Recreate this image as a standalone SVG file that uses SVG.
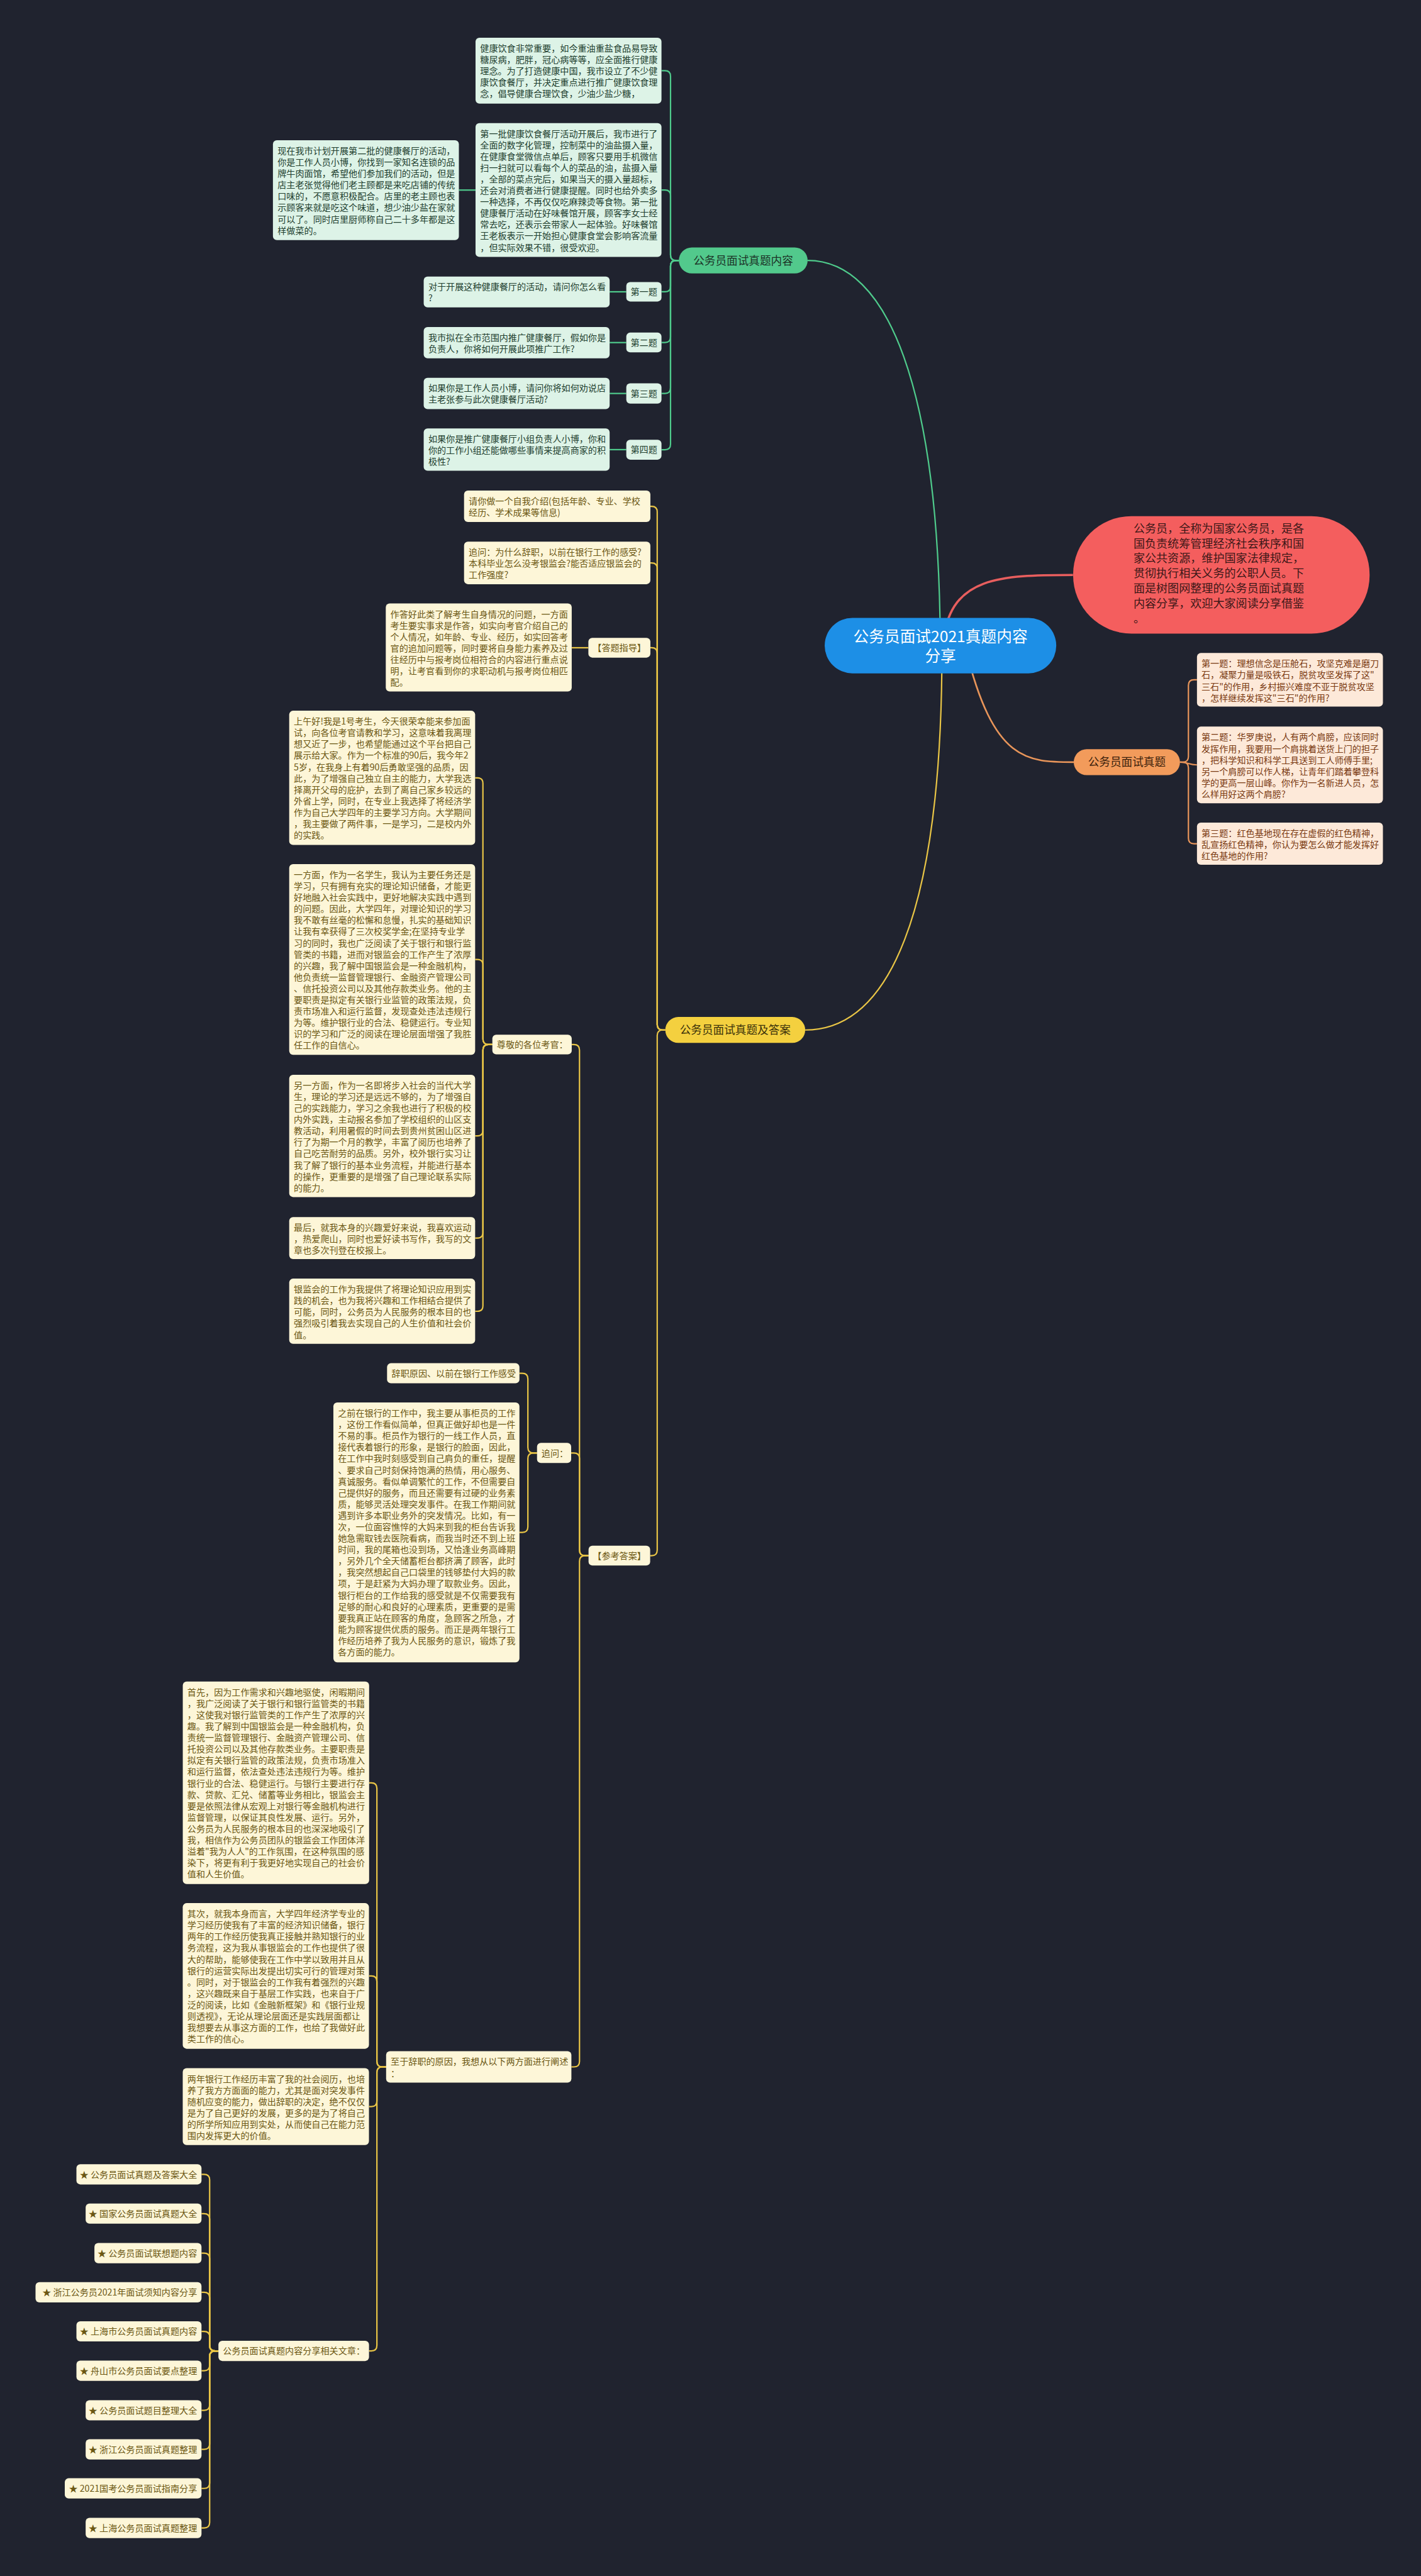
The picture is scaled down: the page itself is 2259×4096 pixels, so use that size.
<svg xmlns="http://www.w3.org/2000/svg" width="2259" height="4096" viewBox="0 0 2259 4096">
<style>
text{font-family:"Noto Sans CJK SC","Noto Sans",sans-serif;font-size:16px}
.cg{fill:none;stroke:#4fcb8c;stroke-width:2.5}
.cy{fill:none;stroke:#e9c546;stroke-width:2.5}
.co{fill:none;stroke:#e8955a;stroke-width:2.5}
.cr{fill:none;stroke:#e85e5e;stroke-width:4}
.lg{fill:#ddf3e7}
.ly{fill:#fdf6d8}
.lo{fill:#fde9d9}
.tg{fill:#22402f}
.ty{fill:#6b5713}
.to{fill:#7a3a12}
</style>
<rect width="2259" height="4096" fill="#20232f"/>
<g transform="scale(0.88242)">
<g id="connectors">
<path class="cg" d="M1694 1163 C1692 700 1600 469.4 1455 469.4"/>
<path class="cr" d="M1700 1150 C1715 1040 1800 1036 1933 1036"/>
<path class="cy" d="M1697 1170 C1697 1650 1600 1856 1450.6 1856"/>
<path class="co" style="stroke-width:3" d="M1740 1170 C1790 1373 1850 1373.3 1934.4 1373.3"/>
<path class="cg" d="M1223 469.4 H1218 Q1208 469.4 1208 459.4 V137.3 Q1208 127.3 1198 127.3 H1191.7"/>
<path class="cg" d="M1223 469.4 H1218 Q1208 469.4 1208 459.4 V352.3 Q1208 342.3 1198 342.3 H1191.7"/>
<path class="cg" d="M1223 469.4 H1218 Q1208 469.4 1208 479.4 V515.8 Q1208 525.8 1198 525.8 H1191.7"/>
<path class="cg" d="M1223 469.4 H1218 Q1208 469.4 1208 479.4 V607.2 Q1208 617.2 1198 617.2 H1191.7"/>
<path class="cg" d="M1223 469.4 H1218 Q1208 469.4 1208 479.4 V699 Q1208 709 1198 709 H1191.7"/>
<path class="cg" d="M1223 469.4 H1218 Q1208 469.4 1208 479.4 V800.3 Q1208 810.3 1198 810.3 H1191.7"/>
<path class="cg" d="M856.7 342.5 H826.7"/>
<path class="cg" d="M1128.3 525.8 H1098.3"/>
<path class="cg" d="M1128.3 617.3 H1098.3"/>
<path class="cg" d="M1128.3 709 H1098.3"/>
<path class="cg" d="M1128.3 810.2 H1098.3"/>
<path class="co" d="M2125.8 1373.3 H2131 Q2141 1373.3 2141 1363.3 V1235 Q2141 1225 2151 1225 H2156.4"/>
<path class="co" d="M2125.8 1373.3 C2141 1373.3 2141 1378.3 2156.4 1378.3"/>
<path class="co" d="M2125.8 1373.3 H2131 Q2141 1373.3 2141 1383.3 V1510.3 Q2141 1520.3 2151 1520.3 H2156.4"/>
<path class="cy" d="M1198.6 1856 H1194 Q1184 1856 1184 1846 V922.3 Q1184 912.3 1174 912.3 H1171.7"/>
<path class="cy" d="M1198.6 1856 H1194 Q1184 1856 1184 1846 V1024.3 Q1184 1014.3 1174 1014.3 H1171.7"/>
<path class="cy" d="M1198.6 1856 H1194 Q1184 1856 1184 1846 V1177.2 Q1184 1167.2 1174 1167.2 H1171.7"/>
<path class="cy" d="M1198.6 1856 H1194 Q1184 1856 1184 1866 V2793.2 Q1184 2803.2 1174 2803.2 H1171.3"/>
<path class="cy" d="M1060 1167.2 H1030"/>
<path class="cy" d="M1060.3 2803.2 H1054 Q1044 2803.2 1044 2793.2 V1892.2 Q1044 1882.2 1034 1882.2 H1030"/>
<path class="cy" d="M1060.3 2803.2 H1054 Q1044 2803.2 1044 2793.2 V2628.2 Q1044 2618.2 1034 2618.2 H1029"/>
<path class="cy" d="M1060.3 2803.2 H1054 Q1044 2803.2 1044 2813.2 V3714.4 Q1044 3724.4 1034 3724.4 H1029.4"/>
<path class="cy" d="M887 1882.2 H880 Q870 1882.2 870 1872.2 V1411.6 Q870 1401.6 860 1401.6 H856"/>
<path class="cy" d="M887 1882.2 H880 Q870 1882.2 870 1872.2 V1738.8 Q870 1728.8 860 1728.8 H856"/>
<path class="cy" d="M887 1882.2 H880 Q870 1882.2 870 1892.2 V2036.8 Q870 2046.8 860 2046.8 H856"/>
<path class="cy" d="M887 1882.2 H880 Q870 1882.2 870 1892.2 V2220.9 Q870 2230.9 860 2230.9 H856"/>
<path class="cy" d="M887 1882.2 H880 Q870 1882.2 870 1892.2 V2352.8 Q870 2362.8 860 2362.8 H856"/>
<path class="cy" d="M967.5 2618.2 H961 Q951 2618.2 951 2608.2 V2484.6 Q951 2474.6 941 2474.6 H935.8"/>
<path class="cy" d="M967.5 2618.2 H961 Q951 2618.2 951 2628.2 V2751.3 Q951 2761.3 941 2761.3 H935.8"/>
<path class="cy" d="M695.6 3724.4 H689 Q679 3724.4 679 3714.4 V3222.5 Q679 3212.5 669 3212.5 H665"/>
<path class="cy" d="M695.6 3724.4 H689 Q679 3724.4 679 3714.4 V3570.5 Q679 3560.5 669 3560.5 H665"/>
<path class="cy" d="M695.6 3724.4 H689 Q679 3724.4 679 3734.4 V3786 Q679 3796 669 3796 H665"/>
<path class="cy" d="M695.6 3724.4 H689 Q679 3724.4 679 3734.4 V4226.2 Q679 4236.2 669 4236.2 H664.8"/>
<path class="cy" d="M393.5 4236.2 H387.7 Q377.7 4236.2 377.7 4226.2 V3928 Q377.7 3918 367.7 3918 H363"/>
<path class="cy" d="M393.5 4236.2 H387.7 Q377.7 4236.2 377.7 4226.2 V3998.8 Q377.7 3988.8 367.7 3988.8 H363"/>
<path class="cy" d="M393.5 4236.2 H387.7 Q377.7 4236.2 377.7 4226.2 V4070 Q377.7 4060 367.7 4060 H363"/>
<path class="cy" d="M393.5 4236.2 H387.7 Q377.7 4236.2 377.7 4226.2 V4140.5 Q377.7 4130.5 367.7 4130.5 H363"/>
<path class="cy" d="M393.5 4236.2 H387.7 Q377.7 4236.2 377.7 4226.2 V4211 Q377.7 4201 367.7 4201 H363"/>
<path class="cy" d="M393.5 4236.2 H387.7 Q377.7 4236.2 377.7 4246.2 V4262 Q377.7 4272 367.7 4272 H363"/>
<path class="cy" d="M393.5 4236.2 H387.7 Q377.7 4236.2 377.7 4246.2 V4333.2 Q377.7 4343.2 367.7 4343.2 H363"/>
<path class="cy" d="M393.5 4236.2 H387.7 Q377.7 4236.2 377.7 4246.2 V4403.5 Q377.7 4413.5 367.7 4413.5 H363"/>
<path class="cy" d="M393.5 4236.2 H387.7 Q377.7 4236.2 377.7 4246.2 V4474 Q377.7 4484 367.7 4484 H363"/>
<path class="cy" d="M393.5 4236.2 H387.7 Q377.7 4236.2 377.7 4246.2 V4545.2 Q377.7 4555.2 367.7 4555.2 H363"/>
</g>

<g id="root">
<rect x="1485.7" y="1113.3" width="417.2" height="100" rx="50" fill="#1d8fe6"/>
<text x="1694.3" y="1157.3" text-anchor="middle" style="font-size:28px" fill="#ffffff">公务员面试2021真题内容</text>
<text x="1694.3" y="1191.7" text-anchor="middle" style="font-size:28px" fill="#ffffff">分享</text>
</g>

<g id="intro">
<rect x="1933.3" y="930" width="534.1" height="211.7" rx="105" fill="#f45e5e"/>
<text style="font-size:20.5px" fill="#3d1818"><tspan x="2042" y="959.5">公务员，全称为国家公务员，是各</tspan><tspan x="2042" y="986.5">国负责统筹管理经济社会秩序和国</tspan><tspan x="2042" y="1013.5">家公共资源，维护国家法律规定，</tspan><tspan x="2042" y="1040.5">贯彻执行相关义务的公职人员。下</tspan><tspan x="2042" y="1067.5">面是树图网整理的公务员面试真题</tspan><tspan x="2042" y="1094.5">内容分享，欢迎大家阅读分享借鉴</tspan><tspan x="2042" y="1121.5">。</tspan></text>
</g>

<g id="green-main">
<rect x="1223" y="446" width="232" height="46.7" rx="23.3" fill="#52c98c"/>
<text x="1339" y="476.9" text-anchor="middle" style="font-size:20px" fill="#1c3327">公务员面试真题内容</text>
</g>
<g id="g-box1">
<rect class="lg" x="856.7" y="68" width="335" height="118.7" rx="7"/>
<text class="tg"><tspan x="865" y="93">健康饮食非常重要，如今重油重盐食品易导致</tspan><tspan x="865" y="113.5">糖尿病，肥胖，冠心病等等，应全面推行健康</tspan><tspan x="865" y="134">理念。为了打造健康中国，我市设立了不少健</tspan><tspan x="865" y="154.5">康饮食餐厅，并决定重点进行推广健康饮食理</tspan><tspan x="865" y="175">念，倡导健康合理饮食，少油少盐少糖，</tspan></text>
</g>
<g id="g-box2">
<rect class="lg" x="856.7" y="221.7" width="335" height="241.3" rx="7"/>
<text class="tg"><tspan x="865" y="246.7">第一批健康饮食餐厅活动开展后，我市进行了</tspan><tspan x="865" y="267.2">全面的数字化管理，控制菜中的油盐摄入量，</tspan><tspan x="865" y="287.7">在健康食堂微信点单后，顾客只要用手机微信</tspan><tspan x="865" y="308.2">扫一扫就可以看每个人的菜品的油，盐摄入量</tspan><tspan x="865" y="328.7">，全部的菜点完后，如果当天的摄入量超标，</tspan><tspan x="865" y="349.2">还会对消费者进行健康提醒。同时也给外卖多</tspan><tspan x="865" y="369.7">一种选择，不再仅仅吃麻辣烫等食物。第一批</tspan><tspan x="865" y="390.2">健康餐厅活动在好味餐馆开展，顾客李女士经</tspan><tspan x="865" y="410.7">常去吃，还表示会带家人一起体验。好味餐馆</tspan><tspan x="865" y="431.2">王老板表示一开始担心健康食堂会影响客流量</tspan><tspan x="865" y="451.7">，但实际效果不错，很受欢迎。</tspan></text>
</g>
<g id="g-box3">
<rect class="lg" x="491.7" y="252.7" width="335" height="180" rx="7"/>
<text class="tg"><tspan x="500" y="277.7">现在我市计划开展第二批的健康餐厅的活动，</tspan><tspan x="500" y="298.2">你是工作人员小博，你找到一家知名连锁的品</tspan><tspan x="500" y="318.7">牌牛肉面馆，希望他们参加我们的活动，但是</tspan><tspan x="500" y="339.2">店主老张觉得他们老主顾都是来吃店铺的传统</tspan><tspan x="500" y="359.7">口味的，不愿意积极配合。店里的老主顾也表</tspan><tspan x="500" y="380.2">示顾客来就是吃这个味道，想少油少盐在家就</tspan><tspan x="500" y="400.7">可以了。同时店里厨师称自己二十多年都是这</tspan><tspan x="500" y="421.2">样做菜的。</tspan></text>
</g>
<g id="g-q1">
<rect class="lg" x="763.3" y="498.3" width="335" height="55.7" rx="7"/>
<text class="tg"><tspan x="771.6" y="522.8">对于开展这种健康餐厅的活动，请问你怎么看</tspan><tspan x="771.6" y="543.3">?</tspan></text>
</g>
<g id="g-q2">
<rect class="lg" x="763.3" y="589.3" width="335" height="56.4" rx="7"/>
<text class="tg"><tspan x="771.6" y="613.8">我市拟在全市范围内推广健康餐厅，假如你是</tspan><tspan x="771.6" y="634.3">负责人，你将如何开展此项推广工作?</tspan></text>
</g>
<g id="g-q3">
<rect class="lg" x="763.3" y="680.7" width="335" height="56.6" rx="7"/>
<text class="tg"><tspan x="771.6" y="705.2">如果你是工作人员小博，请问你将如何劝说店</tspan><tspan x="771.6" y="725.7">主老张参与此次健康餐厅活动?</tspan></text>
</g>
<g id="g-q4">
<rect class="lg" x="763.3" y="772" width="335" height="76.3" rx="7"/>
<text class="tg"><tspan x="771.6" y="796.5">如果你是推广健康餐厅小组负责人小博，你和</tspan><tspan x="771.6" y="817">你的工作小组还能做哪些事情来提高商家的积</tspan><tspan x="771.6" y="837.5">极性?</tspan></text>
</g>
<g id="g-l1"><rect class="lg" x="1128.3" y="508.3" width="63.4" height="35" rx="7"/><text class="tg" x="1160" y="531.8" text-anchor="middle">第一题</text></g>
<g id="g-l2"><rect class="lg" x="1128.3" y="599.3" width="63.4" height="35.7" rx="7"/><text class="tg" x="1160" y="623.2" text-anchor="middle">第二题</text></g>
<g id="g-l3"><rect class="lg" x="1128.3" y="690.7" width="63.4" height="36.6" rx="7"/><text class="tg" x="1160" y="715" text-anchor="middle">第三题</text></g>
<g id="g-l4"><rect class="lg" x="1128.3" y="792.3" width="63.4" height="36" rx="7"/><text class="tg" x="1160" y="816.3" text-anchor="middle">第四题</text></g>

<g id="orange-main">
<rect x="1934.4" y="1350" width="191.4" height="46.7" rx="23.3" fill="#f29b5b"/>
<text x="2030.1" y="1380.8" text-anchor="middle" style="font-size:20px" fill="#3b1f0c">公务员面试真题</text>
</g>
<g id="o-a">
<rect class="lo" x="2156.4" y="1176.7" width="335" height="96.6" rx="7"/>
<text class="to"><tspan x="2164.5" y="1201.7">第一题：理想信念是压舱石，攻坚克难是磨刀</tspan><tspan x="2164.5" y="1222.2">石，凝聚力量是吸铁石，脱贫攻坚发挥了这"</tspan><tspan x="2164.5" y="1242.7">三石"的作用，乡村振兴难度不亚于脱贫攻坚</tspan><tspan x="2164.5" y="1263.2">，怎样继续发挥这"三石"的作用?</tspan></text>
</g>
<g id="o-b">
<rect class="lo" x="2156.4" y="1309.3" width="335" height="138" rx="7"/>
<text class="to"><tspan x="2164.5" y="1334.3">第二题：华罗庚说，人有两个肩膀，应该同时</tspan><tspan x="2164.5" y="1354.8">发挥作用，我要用一个肩挑着送货上门的担子</tspan><tspan x="2164.5" y="1375.3">，把科学知识和科学工具送到工人师傅手里;</tspan><tspan x="2164.5" y="1395.8">另一个肩膀可以作人梯，让青年们踏着攀登科</tspan><tspan x="2164.5" y="1416.3">学的更高一层山峰。你作为一名新进人员，怎</tspan><tspan x="2164.5" y="1436.8">么样用好这两个肩膀?</tspan></text>
</g>
<g id="o-c">
<rect class="lo" x="2156.4" y="1482.3" width="335" height="76" rx="7"/>
<text class="to"><tspan x="2164.5" y="1507.3">第三题：红色基地现在存在虚假的红色精神，</tspan><tspan x="2164.5" y="1527.8">乱宣扬红色精神，你认为要怎么做才能发挥好</tspan><tspan x="2164.5" y="1548.3">红色基地的作用?</tspan></text>
</g>

<g id="yellow-main">
<rect x="1198.6" y="1832.6" width="252" height="46.7" rx="23.3" fill="#f4d03f"/>
<text x="1324.6" y="1863.5" text-anchor="middle" style="font-size:20px" fill="#3a300a">公务员面试真题及答案</text>
</g>
<g id="y-1">
<rect class="ly" x="836" y="884" width="335.7" height="56.7" rx="7"/>
<text class="ty"><tspan x="844.3" y="909">请你做一个自我介绍(包括年龄、专业、学校</tspan><tspan x="844.3" y="929.5">经历、学术成果等信息)</tspan></text>
</g>
<g id="y-2">
<rect class="ly" x="836" y="976" width="335.7" height="76.7" rx="7"/>
<text class="ty"><tspan x="844.3" y="1001">追问：为什么辞职，以前在银行工作的感受?</tspan><tspan x="844.3" y="1021.5">本科毕业怎么没考银监会?能否适应银监会的</tspan><tspan x="844.3" y="1042">工作强度?</tspan></text>
</g>
<g id="y-3">
<rect class="ly" x="695" y="1087.3" width="335" height="158.7" rx="7"/>
<text class="ty"><tspan x="703.3" y="1112.3">作答好此类了解考生自身情况的问题，一方面</tspan><tspan x="703.3" y="1132.8">考生要实事求是作答，如实向考官介绍自己的</tspan><tspan x="703.3" y="1153.3">个人情况，如年龄、专业、经历，如实回答考</tspan><tspan x="703.3" y="1173.8">官的追加问题等，同时要将自身能力素养及过</tspan><tspan x="703.3" y="1194.3">往经历中与报考岗位相符合的内容进行重点说</tspan><tspan x="703.3" y="1214.8">明，让考官看到你的求职动机与报考岗位相匹</tspan><tspan x="703.3" y="1235.3">配。</tspan></text>
</g>
<g id="y-guide"><rect class="ly" x="1060" y="1149.3" width="111.7" height="35.7" rx="7"/><text class="ty" x="1115.8" y="1173.2" text-anchor="middle">【答题指导】</text></g>
<g id="y-answer"><rect class="ly" x="1060.3" y="2785.3" width="111" height="35.7" rx="7"/><text class="ty" x="1115.8" y="2809.2" text-anchor="middle">【参考答案】</text></g>
<g id="y-dear"><rect class="ly" x="887" y="1864.4" width="143" height="35.6" rx="7"/><text class="ty" x="895" y="1888.2">尊敬的各位考官：</text></g>
<g id="y-b1">
<rect class="ly" x="521" y="1280.7" width="335" height="241.9" rx="7"/>
<text class="ty"><tspan x="529.3" y="1305.7">上午好!我是1号考生，今天很荣幸能来参加面</tspan><tspan x="529.3" y="1326.2">试，向各位考官请教和学习，这意味着我离理</tspan><tspan x="529.3" y="1346.7">想又近了一步，也希望能通过这个平台把自己</tspan><tspan x="529.3" y="1367.2">展示给大家。作为一个标准的90后，我今年2</tspan><tspan x="529.3" y="1387.7">5岁，在我身上有着90后勇敢坚强的品质，因</tspan><tspan x="529.3" y="1408.2">此，为了增强自己独立自主的能力，大学我选</tspan><tspan x="529.3" y="1428.7">择离开父母的庇护，去到了离自己家乡较远的</tspan><tspan x="529.3" y="1449.2">外省上学，同时，在专业上我选择了将经济学</tspan><tspan x="529.3" y="1469.7">作为自己大学四年的主要学习方向。大学期间</tspan><tspan x="529.3" y="1490.2">，我主要做了两件事，一是学习，二是校内外</tspan><tspan x="529.3" y="1510.7">的实践。</tspan></text>
</g>
<g id="y-b2">
<rect class="ly" x="521" y="1557" width="335" height="343.7" rx="7"/>
<text class="ty"><tspan x="529.3" y="1582">一方面，作为一名学生，我认为主要任务还是</tspan><tspan x="529.3" y="1602.5">学习，只有拥有充实的理论知识储备，才能更</tspan><tspan x="529.3" y="1623">好地融入社会实践中，更好地解决实践中遇到</tspan><tspan x="529.3" y="1643.5">的问题。因此，大学四年，对理论知识的学习</tspan><tspan x="529.3" y="1664">我不敢有丝毫的松懈和怠慢，扎实的基础知识</tspan><tspan x="529.3" y="1684.5">让我有幸获得了三次校奖学金;在坚持专业学</tspan><tspan x="529.3" y="1705">习的同时，我也广泛阅读了关于银行和银行监</tspan><tspan x="529.3" y="1725.5">管类的书籍，进而对银监会的工作产生了浓厚</tspan><tspan x="529.3" y="1746">的兴趣，我了解中国银监会是一种金融机构，</tspan><tspan x="529.3" y="1766.5">他负责统一监督管理银行、金融资产管理公司</tspan><tspan x="529.3" y="1787">、信托投资公司以及其他存款类业务。他的主</tspan><tspan x="529.3" y="1807.5">要职责是拟定有关银行业监管的政策法规，负</tspan><tspan x="529.3" y="1828">责市场准入和运行监督，发现查处违法违规行</tspan><tspan x="529.3" y="1848.5">为等。维护银行业的合法、稳健运行。专业知</tspan><tspan x="529.3" y="1869">识的学习和广泛的阅读在理论层面增强了我胜</tspan><tspan x="529.3" y="1889.5">任工作的自信心。</tspan></text>
</g>
<g id="y-b3">
<rect class="ly" x="521" y="1936.6" width="335" height="220.4" rx="7"/>
<text class="ty"><tspan x="529.3" y="1961.6">另一方面，作为一名即将步入社会的当代大学</tspan><tspan x="529.3" y="1982.1">生，理论的学习还是远远不够的，为了增强自</tspan><tspan x="529.3" y="2002.6">己的实践能力，学习之余我也进行了积极的校</tspan><tspan x="529.3" y="2023.1">内外实践，主动报名参加了学校组织的山区支</tspan><tspan x="529.3" y="2043.6">教活动，利用暑假的时间去到贵州贫困山区进</tspan><tspan x="529.3" y="2064.1">行了为期一个月的教学，丰富了阅历也培养了</tspan><tspan x="529.3" y="2084.6">自己吃苦耐劳的品质。另外，校外银行实习让</tspan><tspan x="529.3" y="2105.1">我了解了银行的基本业务流程，并能进行基本</tspan><tspan x="529.3" y="2125.6">的操作，更重要的是增强了自己理论联系实际</tspan><tspan x="529.3" y="2146.1">的能力。</tspan></text>
</g>
<g id="y-b4">
<rect class="ly" x="521" y="2193" width="335" height="75.8" rx="7"/>
<text class="ty"><tspan x="529.3" y="2218">最后，就我本身的兴趣爱好来说，我喜欢运动</tspan><tspan x="529.3" y="2238.5">，热爱爬山，同时也爱好读书写作，我写的文</tspan><tspan x="529.3" y="2259">章也多次刊登在校报上。</tspan></text>
</g>
<g id="y-b5">
<rect class="ly" x="521" y="2304" width="335" height="117.6" rx="7"/>
<text class="ty"><tspan x="529.3" y="2329">银监会的工作为我提供了将理论知识应用到实</tspan><tspan x="529.3" y="2349.5">践的机会，也为我将兴趣和工作相结合提供了</tspan><tspan x="529.3" y="2370">可能，同时，公务员为人民服务的根本目的也</tspan><tspan x="529.3" y="2390.5">强烈吸引着我去实现自己的人生价值和社会价</tspan><tspan x="529.3" y="2411">值。</tspan></text>
</g>
<g id="y-ask"><rect class="ly" x="967.5" y="2600" width="61.5" height="36.3" rx="7"/><text class="ty" x="975.5" y="2624.2">追问：</text></g>
<g id="y-reason"><rect class="ly" x="697.3" y="2456.4" width="238.5" height="36.3" rx="7"/><text class="ty" x="705.5" y="2480.6">辞职原因、以前在银行工作感受</text></g>
<g id="y-before">
<rect class="ly" x="600.6" y="2527.2" width="335.2" height="468.2" rx="7"/>
<text class="ty"><tspan x="608.8" y="2552.2">之前在银行的工作中，我主要从事柜员的工作</tspan><tspan x="608.8" y="2572.7">，这份工作看似简单，但真正做好却也是一件</tspan><tspan x="608.8" y="2593.2">不易的事。柜员作为银行的一线工作人员，直</tspan><tspan x="608.8" y="2613.7">接代表着银行的形象，是银行的脸面，因此，</tspan><tspan x="608.8" y="2634.2">在工作中我时刻感受到自己肩负的重任，提醒</tspan><tspan x="608.8" y="2654.7">、要求自己时刻保持饱满的热情，用心服务、</tspan><tspan x="608.8" y="2675.2">真诚服务。看似单调繁忙的工作，不但需要自</tspan><tspan x="608.8" y="2695.7">己提供好的服务，而且还需要有过硬的业务素</tspan><tspan x="608.8" y="2716.2">质，能够灵活处理突发事件。在我工作期间就</tspan><tspan x="608.8" y="2736.7">遇到许多本职业务外的突发情况。比如，有一</tspan><tspan x="608.8" y="2757.2">次，一位面容憔悴的大妈来到我的柜台告诉我</tspan><tspan x="608.8" y="2777.7">她急需取钱去医院看病，而我当时还不到上班</tspan><tspan x="608.8" y="2798.2">时间，我的尾箱也没到场，又恰逢业务高峰期</tspan><tspan x="608.8" y="2818.7">，另外几个全天储蓄柜台都挤满了顾客，此时</tspan><tspan x="608.8" y="2839.2">，我突然想起自己口袋里的钱够垫付大妈的款</tspan><tspan x="608.8" y="2859.7">项，于是赶紧为大妈办理了取款业务。因此，</tspan><tspan x="608.8" y="2880.2">银行柜台的工作给我的感受就是不仅需要我有</tspan><tspan x="608.8" y="2900.7">足够的耐心和良好的心理素质，更重要的是需</tspan><tspan x="608.8" y="2921.2">要我真正站在顾客的角度，急顾客之所急，才</tspan><tspan x="608.8" y="2941.7">能为顾客提供优质的服务。而正是两年银行工</tspan><tspan x="608.8" y="2962.2">作经历培养了我为人民服务的意识，锻炼了我</tspan><tspan x="608.8" y="2982.7">各方面的能力。</tspan></text>
</g>
<g id="y-why">
<rect class="ly" x="695.6" y="3696" width="333.8" height="56.7" rx="7"/>
<text class="ty"><tspan x="703.8" y="3721">至于辞职的原因，我想从以下两方面进行阐述</tspan><tspan x="703.8" y="3741.5">：</tspan></text>
</g>
<g id="y-first">
<rect class="ly" x="329.3" y="3030" width="335.7" height="365" rx="7"/>
<text class="ty"><tspan x="337.5" y="3055">首先，因为工作需求和兴趣地驱使，闲暇期间</tspan><tspan x="337.5" y="3075.5">，我广泛阅读了关于银行和银行监管类的书籍</tspan><tspan x="337.5" y="3096">，这使我对银行监管类的工作产生了浓厚的兴</tspan><tspan x="337.5" y="3116.5">趣。我了解到中国银监会是一种金融机构，负</tspan><tspan x="337.5" y="3137">责统一监督管理银行、金融资产管理公司、信</tspan><tspan x="337.5" y="3157.5">托投资公司以及其他存款类业务。主要职责是</tspan><tspan x="337.5" y="3178">拟定有关银行监管的政策法规，负责市场准入</tspan><tspan x="337.5" y="3198.5">和运行监督，依法查处违法违规行为等。维护</tspan><tspan x="337.5" y="3219">银行业的合法、稳健运行。与银行主要进行存</tspan><tspan x="337.5" y="3239.5">款、贷款、汇兑、储蓄等业务相比，银监会主</tspan><tspan x="337.5" y="3260">要是依照法律从宏观上对银行等金融机构进行</tspan><tspan x="337.5" y="3280.5">监督管理，以保证其良性发展、运行。另外，</tspan><tspan x="337.5" y="3301">公务员为人民服务的根本目的也深深地吸引了</tspan><tspan x="337.5" y="3321.5">我，相信作为公务员团队的银监会工作团体洋</tspan><tspan x="337.5" y="3342">溢着"我为人人"的工作氛围，在这种氛围的感</tspan><tspan x="337.5" y="3362.5">染下，将更有利于我更好地实现自己的社会价</tspan><tspan x="337.5" y="3383">值和人生价值。</tspan></text>
</g>
<g id="y-second">
<rect class="ly" x="329.2" y="3429.3" width="335.5" height="262.4" rx="7"/>
<text class="ty"><tspan x="337.5" y="3454.3">其次，就我本身而言，大学四年经济学专业的</tspan><tspan x="337.5" y="3474.8">学习经历使我有了丰富的经济知识储备，银行</tspan><tspan x="337.5" y="3495.3">两年的工作经历使我真正接触并熟知银行的业</tspan><tspan x="337.5" y="3515.8">务流程，这为我从事银监会的工作也提供了很</tspan><tspan x="337.5" y="3536.3">大的帮助，能够使我在工作中学以致用并且从</tspan><tspan x="337.5" y="3556.8">银行的运营实际出发提出切实可行的管理对策</tspan><tspan x="337.5" y="3577.3">。同时，对于银监会的工作我有着强烈的兴趣</tspan><tspan x="337.5" y="3597.8">，这兴趣既来自于基层工作实践，也来自于广</tspan><tspan x="337.5" y="3618.3">泛的阅读，比如《金融新框架》和《银行业规</tspan><tspan x="337.5" y="3638.8">则透视》，无论从理论层面还是实践层面都让</tspan><tspan x="337.5" y="3659.3">我想要去从事这方面的工作，也给了我做好此</tspan><tspan x="337.5" y="3679.8">类工作的信心。</tspan></text>
</g>
<g id="y-third">
<rect class="ly" x="329.2" y="3726.7" width="335.5" height="138.5" rx="7"/>
<text class="ty"><tspan x="337.5" y="3751.7">两年银行工作经历丰富了我的社会阅历，也培</tspan><tspan x="337.5" y="3772.2">养了我方方面面的能力，尤其是面对突发事件</tspan><tspan x="337.5" y="3792.7">随机应变的能力，做出辞职的决定，绝不仅仅</tspan><tspan x="337.5" y="3813.2">是为了自己更好的发展，更多的是为了将自己</tspan><tspan x="337.5" y="3833.7">的所学所知应用到实处，从而使自己在能力范</tspan><tspan x="337.5" y="3854.2">围内发挥更大的价值。</tspan></text>
</g>
<g id="y-related"><rect class="ly" x="393.5" y="4218" width="271.3" height="36.4" rx="7"/><text class="ty" x="401.5" y="4242.2">公务员面试真题内容分享相关文章：</text></g>
<g id="link1"><rect class="ly" x="137.7" y="3899.7" width="225.3" height="36.5" rx="7"/><text class="ty" x="355" y="3924" text-anchor="end">★ 公务员面试真题及答案大全</text></g>
<g id="link2"><rect class="ly" x="154.3" y="3970.5" width="208.7" height="36.5" rx="7"/><text class="ty" x="355" y="3994.8" text-anchor="end">★ 国家公务员面试真题大全</text></g>
<g id="link3"><rect class="ly" x="170.1" y="4041.8" width="192.9" height="36.5" rx="7"/><text class="ty" x="355" y="4066.1" text-anchor="end">★ 公务员面试联想题内容</text></g>
<g id="link4"><rect class="ly" x="64" y="4112.3" width="299" height="36.5" rx="7"/><text class="ty" x="355" y="4136.6" text-anchor="end">★ 浙江公务员2021年面试须知内容分享</text></g>
<g id="link5"><rect class="ly" x="137.7" y="4182.7" width="225.3" height="36.5" rx="7"/><text class="ty" x="355" y="4207" text-anchor="end">★ 上海市公务员面试真题内容</text></g>
<g id="link6"><rect class="ly" x="137.7" y="4253.6" width="225.3" height="36.5" rx="7"/><text class="ty" x="355" y="4277.9" text-anchor="end">★ 舟山市公务员面试要点整理</text></g>
<g id="link7"><rect class="ly" x="154.3" y="4324.9" width="208.7" height="36.5" rx="7"/><text class="ty" x="355" y="4349.2" text-anchor="end">★ 公务员面试题目整理大全</text></g>
<g id="link8"><rect class="ly" x="154.3" y="4395.3" width="208.7" height="36.5" rx="7"/><text class="ty" x="355" y="4419.6" text-anchor="end">★ 浙江公务员面试真题整理</text></g>
<g id="link9"><rect class="ly" x="116.7" y="4465.7" width="246.3" height="36.5" rx="7"/><text class="ty" x="355" y="4490" text-anchor="end">★ 2021国考公务员面试指南分享</text></g>
<g id="link10"><rect class="ly" x="154.3" y="4537" width="208.7" height="36.5" rx="7"/><text class="ty" x="355" y="4561.3" text-anchor="end">★ 上海公务员面试真题整理</text></g>
</g>
</svg>
